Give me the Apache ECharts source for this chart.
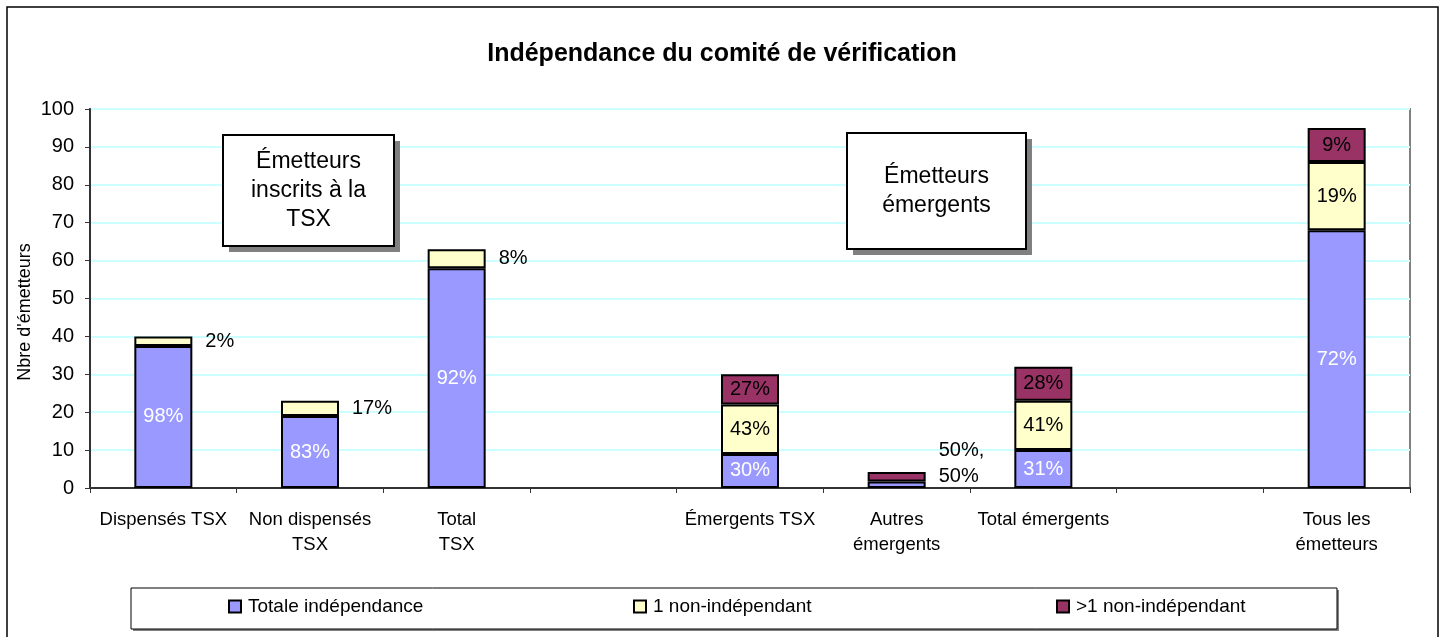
<!DOCTYPE html>
<html>
<head>
<meta charset="utf-8">
<title>Indépendance du comité de vérification</title>
<script src="https://cdn.jsdelivr.net/npm/echarts@6/dist/echarts.min.js"></script>
<style>
    html, body { margin: 0; padding: 0; background: #fff; }
    #chart { width: 1444px; height: 637px; }
</style>
</head>
<body>
<div id="chart"></div>
<script>
// catégories (vides = espaces entre groupes)
var categories = ['Dispensés TSX', 'Non dispensés\nTSX', 'Total\nTSX', '', 'Émergents TSX', 'Autres\némergents', 'Total émergents', '', 'Tous les\németteurs'];

var totaleIndep = [37.5, 19, 58, null, 9, 1.7, 10, null, 68];
var unNonIndep = [2.5, 4, 5, null, 13, null, 13, null, 18];
var plusNonIndep = [null, null, null, null, 8, 2.5, 9, null, 9];

var totaleLabels = ['98%', '83%', '92%', '', '30%', '', '31%', '', '72%'];
var unLabels = ['2%', '17%', '8%', '', '43%', '', '41%', '', '19%'];
var plusLabels = ['', '', '', '', '27%', '50%,\n50%', '28%', '', '9%'];

var yTicks = [0, 100, 10];

var FONT = 'Arial, "Liberation Sans", sans-serif';

initChart();

function buildData(values, labels, textColor) {
    var out = [];
    for (var i = 0; i < values.length; i++) {
        var v = values[i];
        var txt = labels[i];
        var small = v != null && v < 6;
        var item = {
            value: v,
            label: {
                show: txt != '',
                formatter: txt,
                position: small ? 'right' : 'inside',
                distance: 13,
                color: small ? '#000' : textColor,
                fontSize: 20,
                fontFamily: FONT,
                lineHeight: 26
            }
        };
        if (txt.indexOf('\n') >= 0) {
            item.label.offset = [0, -13];
        }
        out.push(item);
    }
    return out;
}

function barSeries(name, color, values, labels, textColor) {
    return {
        name: name,
        type: 'bar',
        stack: 'total',
        barWidth: 58,
        itemStyle: {
            color: color,
            borderColor: '#000',
            borderWidth: 2
        },
        emphasis: {disabled: true},
        data: buildData(values, labels, textColor)
    };
}

function legendAt(name, x) {
    return {
        data: [name],
        left: x,
        top: 597,
        icon: 'rect',
        itemWidth: 12,
        itemHeight: 12,
        padding: 0,
        selectedMode: false,
        itemStyle: {borderColor: '#000', borderWidth: 2},
        textStyle: {color: '#000', fontSize: 19, fontFamily: FONT, padding: [0, 0, 0, 2]}
    };
}

function noteBox(x, y, w, h, text) {
    return {
        type: 'group',
        z: 100,
        children: [
            {type: 'rect', z: 100, shape: {x: x + 6, y: y + 6, width: w, height: h}, style: {fill: '#808080'}},
            {type: 'rect', z: 101, shape: {x: x, y: y, width: w, height: h}, style: {fill: '#fff', stroke: '#000', lineWidth: 2}},
            {
                type: 'text',
                z: 102,
                x: x + w / 2,
                y: y + h / 2,
                style: {
                    text: text,
                    fill: '#000',
                    font: '23px ' + FONT,
                    align: 'center',
                    verticalAlign: 'middle',
                    lineHeight: 29
                }
            }
        ]
    };
}

function initChart() {
    var myChart = echarts.init(document.getElementById('chart'));
    var option = {
        animation: false,
        title: {
            text: 'Indépendance du comité de vérification',
            left: 'center',
            top: 37,
            textStyle: {fontSize: 25, fontWeight: 'bold', fontFamily: FONT, color: '#000'}
        },
        legend: [
            legendAt('Totale indépendance', 228),
            legendAt('1 non-indépendant', 633),
            legendAt('>1 non-indépendant', 1056)
        ],
        grid: {
            left: 90,
            right: 34,
            top: 109,
            bottom: 149,
            show: true,
            borderColor: '#808080',
            borderWidth: 2,
            backgroundColor: 'transparent'
        },
        xAxis: {
            type: 'category',
            data: categories,
            axisLine: {lineStyle: {color: '#333', width: 2}},
            axisTick: {show: true, length: 5, lineStyle: {color: '#333'}},
            axisLabel: {
                interval: 0,
                margin: 19,
                color: '#000',
                fontSize: 18.5,
                lineHeight: 25,
                fontFamily: FONT
            }
        },
        yAxis: {
            type: 'value',
            min: yTicks[0],
            max: yTicks[1],
            interval: yTicks[2],
            name: "Nbre d'émetteurs",
            nameLocation: 'middle',
            nameGap: 56,
            nameMoveOverlap: false,
            nameTextStyle: {color: '#000', fontSize: 18, fontFamily: FONT, padding: [0, 27, 0, 0]},
            axisLine: {show: true, lineStyle: {color: '#333', width: 2}},
            axisTick: {show: true, length: 5, lineStyle: {color: '#333'}},
            axisLabel: {color: '#000', fontSize: 20, fontFamily: FONT, margin: 16},
            splitLine: {lineStyle: {color: '#ccffff', width: 2}}
        },
        graphic: [
            {type: 'rect', shape: {x: 7, y: 7, width: 1431, height: 640}, style: {fill: 'none', stroke: '#000', lineWidth: 1.5}, silent: true},
            {type: 'rect', shape: {x: 133, y: 590, width: 1206, height: 41}, style: {fill: '#808080'}, silent: true, z: -1},
            {type: 'rect', shape: {x: 131, y: 588, width: 1206, height: 41}, style: {fill: '#fff', stroke: '#000', lineWidth: 1}, silent: true, z: -1},
            noteBox(223, 135, 171, 111, 'Émetteurs\ninscrits à la\nTSX'),
            noteBox(847, 133, 179, 116, 'Émetteurs\némergents')
        ],
        series: [
            barSeries('Totale indépendance', '#9999ff', totaleIndep, totaleLabels, '#fff'),
            barSeries('1 non-indépendant', '#ffffcc', unNonIndep, unLabels, '#000'),
            barSeries('>1 non-indépendant', '#993366', plusNonIndep, plusLabels, '#000')
        ]
    };
    myChart.setOption(option);
    window.addEventListener("resize", function () {
        myChart.resize();
    });
}
</script>
</body>
</html>
